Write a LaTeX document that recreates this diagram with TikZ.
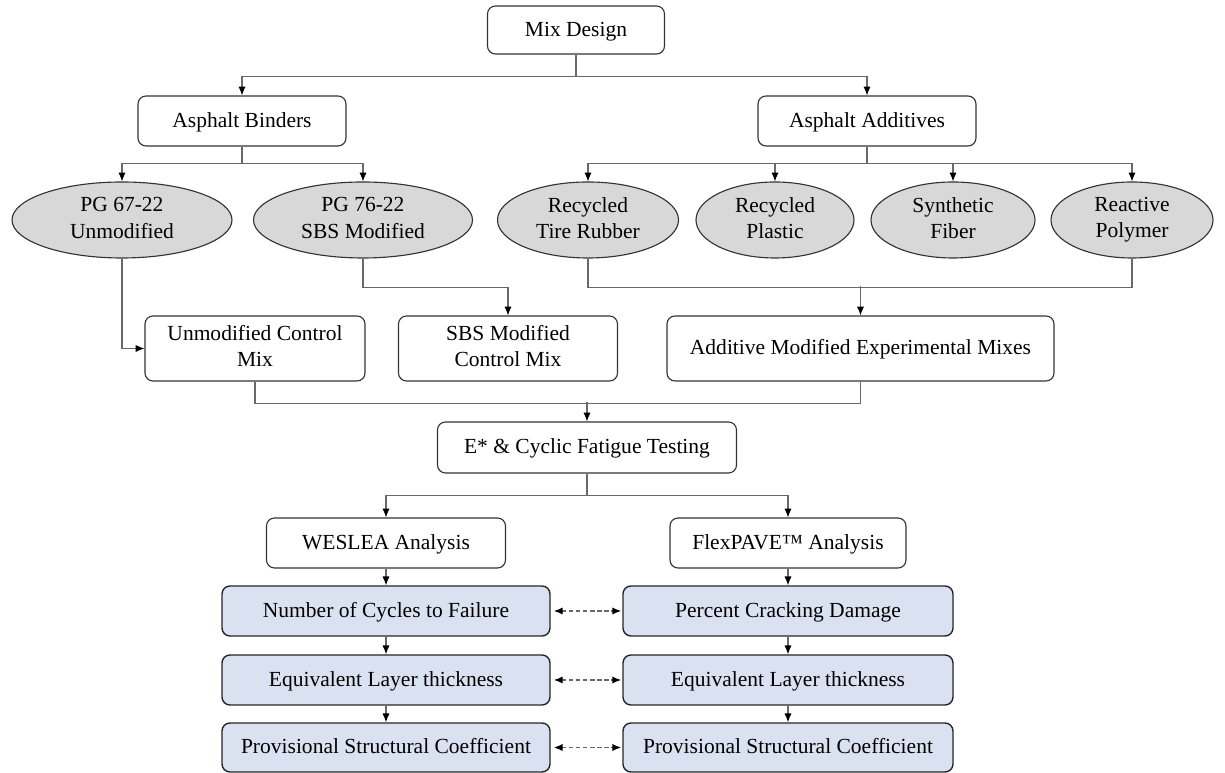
\documentclass[tikz,border=0pt]{standalone}
\usepackage{fontspec}
\setmainfont{Liberation Serif}
\usetikzlibrary{shapes.geometric,arrows.meta}
\definecolor{boxblue}{RGB}{218,226,242}
\definecolor{ovalgray}{RGB}{216,216,216}
\definecolor{linegray}{RGB}{105,105,105}
\begin{document}
\begin{tikzpicture}[
        scale=1,
        font=\fontsize{15.3}{18.5}\selectfont
    ]
    \tikzset{
        mybox/.style = {rectangle, rounded corners=0.2cm, draw=black!80, line width=0.8pt, align=center, fill=white, inner sep=0pt, minimum height=1.25cm,
            execute at begin node={\rule[-3pt]{0pt}{15pt}}, execute at end node={\rule[-3pt]{0pt}{15pt}}},
        myboxb/.style = {mybox, fill=boxblue, draw=black!85, line width=1pt},
        myoval/.style = {ellipse, draw=black!80, line width=0.8pt, align=center, fill=ovalgray, inner sep=0pt, minimum height=1.9cm,
            execute at begin node={\rule[-3pt]{0pt}{15pt}}, execute at end node={\rule[-3pt]{0pt}{15pt}}},
        edgen/.style = {-, draw=linegray, line width=0.75pt},
        edgea/.style = {-{Latex[length=2.2mm,width=1.8mm,color=black]}, draw=linegray, line width=0.75pt},
        edged/.style = {{Latex[length=2.2mm,width=1.8mm,color=black]}-{Latex[length=2.2mm,width=1.8mm,color=black]}, draw=linegray, line width=0.75pt, dash pattern=on 3pt off 2pt, shorten <=0.08cm, shorten >=0.03cm},
    }
    \useasboundingbox (0,0) rectangle (30.625,19.325);
    \node[mybox, minimum width=4.425cm, minimum height=1.2cm] at (14.4,18.575) (mix) {Mix Design};
    \node[mybox, minimum width=5.2cm] at (6.05,16.3) (bind) {Asphalt Binders};
    \node[mybox, minimum width=5.45cm] at (21.675,16.3) (addi) {Asphalt Additives};
    %
    \node[myoval, minimum width=5.5cm] at (3.05,13.825) (pga) {PG 67-22\\Unmodified};
    \node[myoval, minimum width=5.475cm] at (9.075,13.825) (pgb) {PG 76-22\\SBS Modified};
    \node[myoval, minimum width=4.525cm] at (14.7,13.825) (tire) {Recycled\\Tire Rubber};
    \node[myoval, minimum width=3.95cm] at (19.375,13.825) (plas) {Recycled\\Plastic};
    \node[myoval, minimum width=4.1cm] at (23.825,13.825) (fib) {Synthetic\\Fiber};
    \node[myoval, minimum width=4.05cm] at (28.3,13.825) (poly) {Reactive\\Polymer};
    %
    \node[mybox, minimum width=5.5cm, minimum height=1.625cm] at (6.375,10.6125) (unm) {Unmodified Control\\Mix};
    \node[mybox, minimum width=5.475cm, minimum height=1.625cm] at (12.7,10.6125) (sbs) {SBS Modified\\Control Mix};
    \node[mybox, minimum width=9.675cm, minimum height=1.625cm] at (21.5125,10.6125) (amx) {Additive Modified Experimental Mixes};
    %
    \node[mybox, minimum width=7.475cm, minimum height=1.275cm] at (14.675,8.1375) (ecf) {E* \& Cyclic Fatigue Testing};
    \node[mybox, minimum width=5.975cm] at (9.65,5.75) (wes) {WESLEA Analysis};
    \node[mybox, minimum width=5.9cm] at (19.7,5.75) (flx) {FlexPAVE™ Analysis};
    %
    \node[myboxb, minimum width=8.2cm] at (9.65,4.05) (wcy) {Number of Cycles to Failure};
    \node[myboxb, minimum width=8.2cm] at (9.65,2.325) (wel) {Equivalent Layer thickness};
    \node[myboxb, minimum width=8.2cm, minimum height=1.225cm] at (9.65,0.6375) (wps) {Provisional Structural Coefficient};
    \node[myboxb, minimum width=8.25cm] at (19.7,4.05) (fcr) {Percent Cracking Damage};
    \node[myboxb, minimum width=8.25cm] at (19.7,2.325) (fel) {Equivalent Layer thickness};
    \node[myboxb, minimum width=8.25cm, minimum height=1.225cm] at (19.7,0.6375) (fps) {Provisional Structural Coefficient};
    %
    \draw[edgea] (mix.south) -- ++(0,-0.55) -| (bind.north);
    \draw[edgea] (mix.south) -- ++(0,-0.55) -| (addi.north);
    %
    \draw[edgea] (bind.south) -- ++(0,-0.425) -| (pga.north);
    \draw[edgea] (bind.south) -- ++(0,-0.425) -| (pgb.north);
    \draw[edgea] (addi.south) -- ++(0,-0.425) -| (tire.north);
    \draw[edgea] (addi.south) -- ++(0,-0.425) -| (plas.north);
    \draw[edgea] (addi.south) -- ++(0,-0.425) -| (fib.north);
    \draw[edgea] (addi.south) -- ++(0,-0.425) -| (poly.north);
    %
    \draw[edgea] (pga.south) |- (unm.west);
    \draw[edgea] (pgb.south) -- ++(0,-0.725) -| (sbs.north);
    \draw[edgen] (tire.south) -- ++(0,-0.725) -| (poly.south);
    \draw[edgea] ([yshift=0.725cm]amx.north) -- (amx.north);
    %
    \draw[edgen] (unm.south) -- ++(0,-0.55) -| (amx.south);
    \draw[edgea] ([yshift=0.475cm]ecf.north) -- (ecf.north);
    \draw[edgea] (ecf.south) -- ++(0,-0.55) -| (wes.north);
    \draw[edgea] (ecf.south) -- ++(0,-0.55) -| (flx.north);
    %
    \draw[edgea] (wes) -- (wcy);
    \draw[edgea] (wcy) -- (wel);
    \draw[edgea] (wel) -- (wps);
    \draw[edgea] (flx) -- (fcr);
    \draw[edgea] (fcr) -- (fel);
    \draw[edgea] (fel) -- (fps);
    %
    \draw[edged] (wcy) -- (fcr);
    \draw[edged] (wel) -- (fel);
    \draw[edged] (wps) -- (fps);
\end{tikzpicture}
\end{document}
